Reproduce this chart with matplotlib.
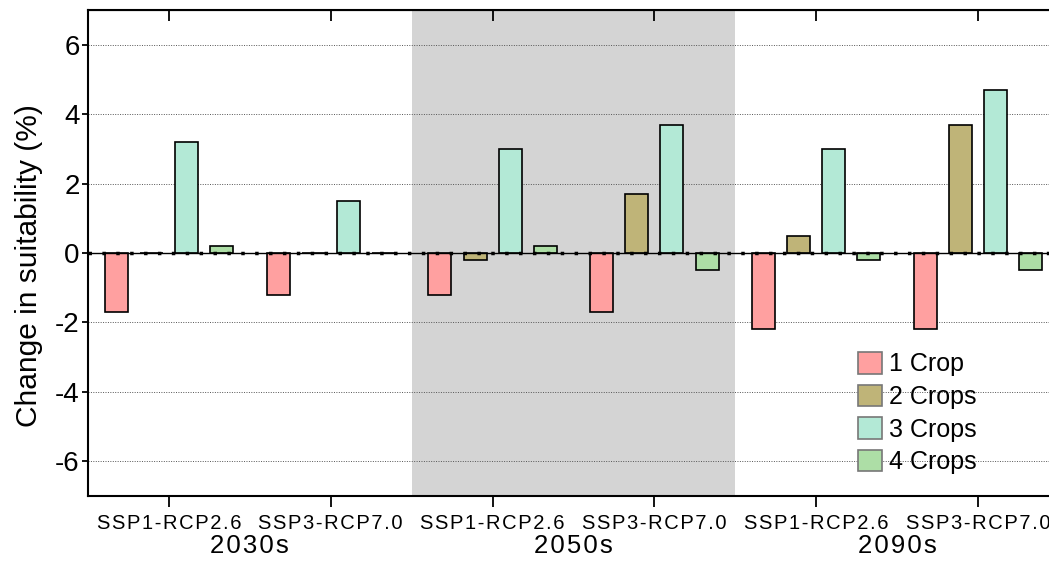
import matplotlib
matplotlib.use('Agg')
import matplotlib.pyplot as plt
import matplotlib.transforms as mtransforms
import numpy as np

plt.rcParams['font.family'] = ['Liberation Sans', 'DejaVu Sans']

scenarios = ['SSP1-RCP2.6', 'SSP3-RCP7.0'] * 3
decades = ['2030s', '2050s', '2090s']
series = ['1 Crop', '2 Crops', '3 Crops', '4 Crops']
colors = ['#FFA0A0', '#BFB478', '#B3E9D6', '#ADDEA6']

crop1 = [-1.7, -1.2, -1.2, -1.7, -2.2, -2.2]
crop2 = [0.0, 0.0, -0.2, 1.7, 0.5, 3.7]
crop3 = [3.2, 1.5, 3.0, 3.7, 3.0, 4.7]
crop4 = [0.2, 0.0, 0.2, -0.5, -0.2, -0.5]
values = [crop1, crop2, crop3, crop4]


def spaced(s, sep='\u200a'):
    return sep.join(s)


fig = plt.figure(figsize=(10.49, 5.63), dpi=100)
ax = fig.add_axes([88 / 1049, 67 / 563, 971 / 1049, 486 / 563])

x = np.arange(len(scenarios))
offsets = [-0.325, -0.108, 0.108, 0.325]
handles = []
for vals, off, c, name in zip(values, offsets, colors, series):
    b = ax.bar(x + off, vals, width=0.142, color=c, edgecolor='black',
               linewidth=1.2, zorder=3, label=name)
    handles.append(b)

# shaded 2050s block
ax.axvspan(1.5, 3.5, color='#D4D4D4', zorder=0, lw=0)

# grid and zero line
for yv in [-6, -4, -2, 2, 4, 6]:
    ax.axhline(yv, color='#555555', lw=0.7, ls=(0, (1, 1.5)), zorder=1)
ax.axhline(0, color='black', lw=1.0, zorder=4)
ax.axhline(0, color='black', lw=2.5, ls=(0, (1, 3)), zorder=4)

ax.set_xlim(-0.5, 5.5)
ax.set_ylim(-7, 7)
ax.set_yticks([-6, -4, -2, 0, 2, 4, 6])
ax.set_yticklabels(['-6', '-4', '-2', '0', '2', '4', '6'], fontsize=20)
ax.set_xticks(x)
ax.set_xticklabels([spaced(s) for s in scenarios], fontsize=14.5)
ax.tick_params(axis='x', direction='out', length=8, width=1.3, pad=5, top=False)
ax.tick_params(axis='y', direction='out', length=4, width=1.3, pad=2)
for sp in ax.spines.values():
    sp.set_linewidth(1.5)
ax.spines['right'].set_visible(False)

# top ticks pointing inward
secx = ax.secondary_xaxis('top')
secx.set_xticks(x)
secx.set_xticklabels([])
secx.tick_params(direction='in', length=8, width=1.3)

ax.set_ylabel('Change in suitability (%)', fontsize=21.5)
ax.yaxis.set_label_coords(-0.046, 0.475)

trans = mtransforms.blended_transform_factory(ax.transData, ax.transAxes)
for i, d in enumerate(decades):
    ax.text(2 * i + 0.5, -0.102, spaced(d), transform=trans, ha='center',
            va='center', fontsize=18.5)

ax.legend(handles=handles, labels=series,
          loc='upper left', bbox_to_anchor=(770 / 971, 144 / 486),
          frameon=False, fontsize=18, handlelength=0.95, handleheight=0.95,
          handletextpad=0.3, labelspacing=0.33, borderpad=0, borderaxespad=0)
leg = ax.get_legend()
for p in leg.get_patches():
    p.set_edgecolor('#777777')

fig.savefig('out.png', dpi=100)
